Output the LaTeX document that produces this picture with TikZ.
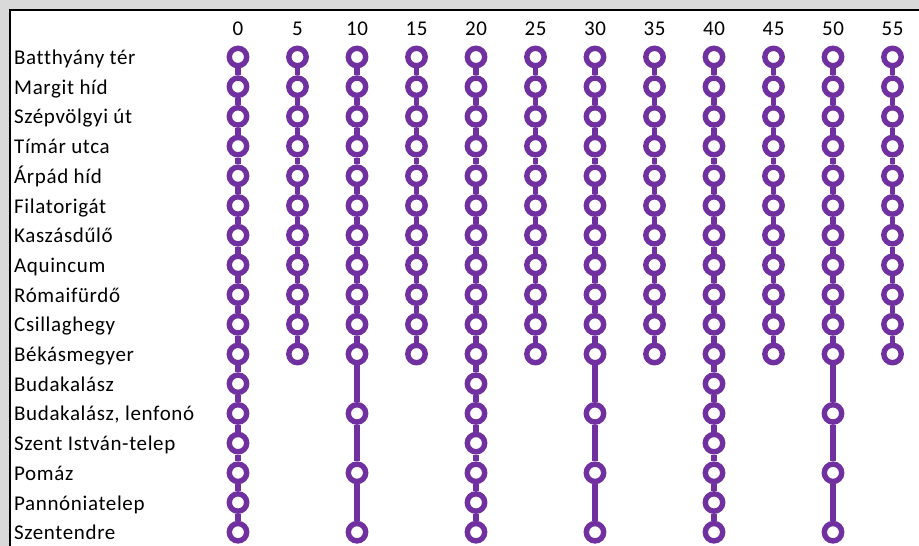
\documentclass[tikz,border=0pt]{standalone}
\usepackage{fontspec}
\setmainfont{Carlito}[LetterSpace=3,Ligatures=NoCommon]
\definecolor{linepurple}{HTML}{7030A0}
\definecolor{bggray}{HTML}{D9D9D9}
\begin{document}
\begin{tikzpicture}[x=1pt,y=-1pt,
  stopnode/.style={circle,draw=linepurple,fill=white,line width=5.4pt,minimum size=17.4pt,inner sep=0pt},
  conn/.style={draw=linepurple,line width=5.2pt},
  lbl/.style={anchor=base west,inner sep=0pt,font=\fontsize{21}{25}\selectfont},
  hdr/.style={anchor=base,inner sep=0pt,font=\fontsize{21}{25}\selectfont}]
\useasboundingbox (0,0) rectangle (919,546);
\fill[bggray] (0,0) rectangle (919,546);
\fill[white] (10,10) rectangle (930,560);
\draw[line width=2pt] (10,560) -- (10,10) -- (930,10);
% station labels
\foreach \name [count=\r from 0] in {Batthyány tér, Margit híd, Szépvölgyi út, Tímár utca, Árpád híd, Filatorigát, Kaszásdűlő, Aquincum, Rómaifürdő, Csillaghegy, Békásmegyer, Budakalász, {Budakalász, lenfonó}, Szent István-telep, Pomáz, Pannóniatelep, Szentendre}{
  \pgfmathsetmacro\yy{57+29.7*\r+7.5}
  \node[lbl] (lab\r) at (14,\yy) {\name};
}
% columns
\def\none{none}
\foreach \c/\stops [count=\i from 0] in {
  0/{0,1,2,3,4,5,6,7,8,9,10,11,12,13,14,15,16},
  5/{0,1,2,3,4,5,6,7,8,9,10},
  10/{0,1,2,3,4,5,6,7,8,9,10,12,14,16},
  15/{0,1,2,3,4,5,6,7,8,9,10},
  20/{0,1,2,3,4,5,6,7,8,9,10,11,12,13,14,15,16},
  25/{0,1,2,3,4,5,6,7,8,9,10},
  30/{0,1,2,3,4,5,6,7,8,9,10,12,14,16},
  35/{0,1,2,3,4,5,6,7,8,9,10},
  40/{0,1,2,3,4,5,6,7,8,9,10,11,12,13,14,15,16},
  45/{0,1,2,3,4,5,6,7,8,9,10},
  50/{0,1,2,3,4,5,6,7,8,9,10,12,14,16},
  55/{0,1,2,3,4,5,6,7,8,9,10}}{
  \pgfmathsetmacro\xx{238+59.5*\i}
  \node[hdr] (h\i) at (\xx,35) {\c};
  \foreach \s [remember=\s as \prev (initially none)] in \stops {
    \pgfmathsetmacro\yy{57+29.7*\s}
    \node[stopnode] (c\i-\s) at (\xx,\yy) {};
    \ifx\prev\none\else
      \draw[conn] (c\i-\prev) -- (c\i-\s);
    \fi
  }
}
\end{tikzpicture}
\end{document}
